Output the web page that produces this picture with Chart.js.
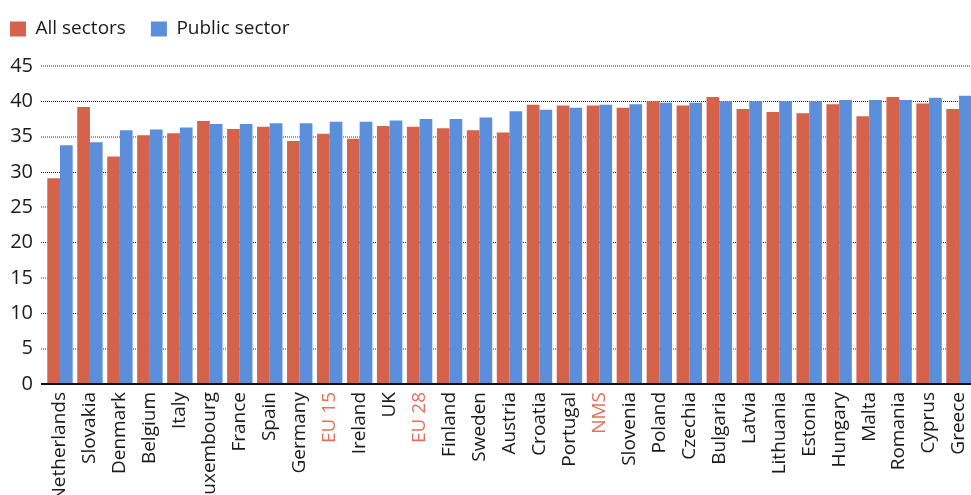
<!DOCTYPE html>
<html>
<head>
<meta charset="utf-8">
<script src="https://cdn.jsdelivr.net/npm/chart.js@4.4.1/dist/chart.umd.min.js"></script>
<style>
  html, body { margin: 0; padding: 0; overflow: hidden; background: #ffffff; }
  #wrap { width: 974px; height: 495px; }
</style>
</head>
<body>
<div id="wrap"><canvas id="c" width="974" height="495"></canvas></div>
<script>
const categories = ['Netherlands','Slovakia','Denmark','Belgium','Italy','Luxembourg','France','Spain','Germany','EU 15','Ireland','UK','EU 28','Finland','Sweden','Austria','Croatia','Portugal','NMS','Slovenia','Poland','Czechia','Bulgaria','Latvia','Lithuania','Estonia','Hungary','Malta','Romania','Cyprus','Greece'];
const allSectors = [29.1,39.2,32.2,35.2,35.5,37.2,36.1,36.4,34.4,35.4,34.7,36.5,36.4,36.2,35.9,35.6,39.5,39.4,39.4,39.1,40.0,39.4,40.6,38.9,38.5,38.3,39.6,37.9,40.6,39.7,38.9];
const publicSector = [33.8,34.2,35.9,36.0,36.3,36.8,36.8,36.9,36.9,37.1,37.1,37.3,37.5,37.5,37.7,38.6,38.8,39.1,39.5,39.6,39.8,39.8,40.0,40.0,40.0,40.0,40.2,40.2,40.2,40.5,40.8];
const aggregateLabels = ['EU 15','EU 28','NMS'];
const seriesNames = ['All sectors','Public sector'];

const RED = '#D5634C';
const BLUE = '#5B8FDC';
const FONT = "'Open Sans', 'Noto Sans', sans-serif";

Chart.defaults.font.family = FONT;

new Chart(document.getElementById('c'), {
  type: 'bar',
  data: {
    labels: categories,
    datasets: [
      { label: seriesNames[0], data: allSectors, backgroundColor: RED, borderWidth: 0 },
      { label: seriesNames[1], data: publicSector, backgroundColor: BLUE, borderWidth: 0 }
    ]
  },
  options: {
    responsive: false,
    animation: false,
    devicePixelRatio: 1,
    layout: { padding: { left: -15, top: -5.5, right: 0, bottom: 0 } },
    datasets: { bar: { categoryPercentage: 0.848, barPercentage: 1.0 } },
    plugins: {
      tooltip: { enabled: false },
      legend: {
        display: true,
        position: 'top',
        align: 'start',
        labels: {
          boxWidth: 16,
          boxHeight: 15,
          padding: 25,
          color: '#1a1a1a',
          font: { size: 19, family: FONT }
        }
      },
      title: {
        display: true,
        text: '',
        weight: 500,
        font: { size: 10, lineHeight: 1 },
        padding: { top: 0, bottom: 7.5 }
      }
    },
    scales: {
      x: {
        grid: { display: false, drawTicks: false },
        border: { display: true, color: '#111111', width: 2 },
        ticks: {
          autoSkip: false,
          maxRotation: 90,
          minRotation: 90,
          padding: 8,
          font: { size: 19, family: FONT },
          color: (ctx) => aggregateLabels.includes(categories[ctx.index]) ? '#E4705A' : '#1a1a1a'
        },
        afterFit: (scale) => { scale.height = 111; scale.paddingLeft = 0; scale.paddingRight = 0; }
      },
      y: {
        min: 0,
        max: 45,
        border: { display: false, dash: [1, 1] },
        grid: {
          drawTicks: true,
          tickLength: 4,
          color: (ctx) => ctx.tick.value === 0 ? '#111111' : (ctx.tick.value % 10 === 0 ? '#222222' : '#9a9a9a'),
          tickColor: (ctx) => ctx.tick.value === 0 ? '#111111' : (ctx.tick.value % 10 === 0 ? '#222222' : '#9a9a9a'),
          lineWidth: (ctx) => ctx.tick.value === 0 ? 2 : (ctx.tick.value % 10 === 0 ? 1 : 2),
          tickWidth: (ctx) => ctx.tick.value === 0 ? 2 : (ctx.tick.value % 10 === 0 ? 1 : 2),
          tickBorderDash: (ctx) => ctx.tick.value === 0 ? [] : [1, 1]
        },
        ticks: {
          stepSize: 5,
          padding: 8,
          font: { size: 20, family: FONT },
          color: '#1a1a1a'
        },
        afterFit: (scale) => { scale.width = 60; }
      }
    }
  }
});
</script>
</body>
</html>
